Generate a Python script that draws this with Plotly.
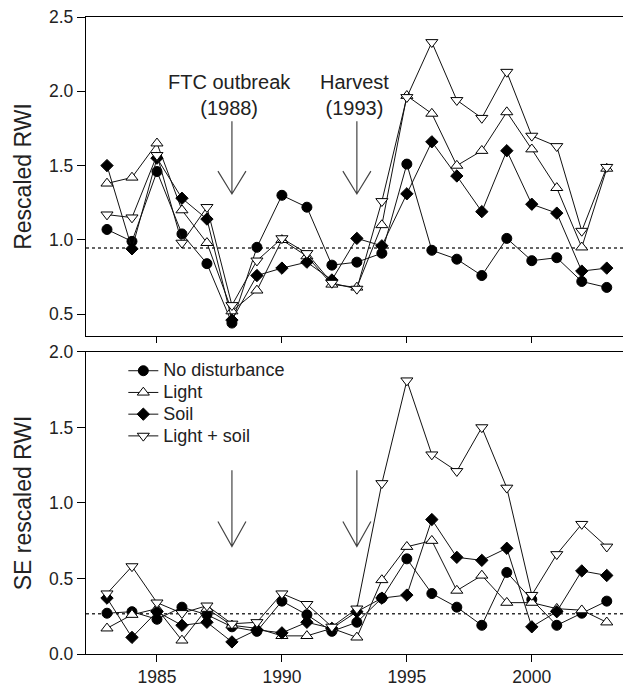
import plotly.graph_objects as go

# ---------------- data ----------------
years = list(range(1983, 2004))
series_names = ["No disturbance", "Light", "Soil", "Light + soil"]

rwi_none = [1.07, 0.99, 1.46, 1.04, 0.84, 0.44, 0.95, 1.30, 1.22, 0.83, 0.85,
            0.91, 1.51, 0.93, 0.87, 0.76, 1.01, 0.86, 0.88, 0.72, 0.68]
rwi_light = [1.38, 1.42, 1.65, 1.20, 0.98, 0.52, 0.66, 1.00, 0.89, 0.70, 0.68,
             1.10, 1.97, 1.85, 1.50, 1.60, 1.86, 1.61, 1.35, 0.95, 1.48]
rwi_soil = [1.50, 0.94, 1.55, 1.28, 1.14, 0.46, 0.76, 0.81, 0.85, 0.73, 1.01,
            0.96, 1.31, 1.66, 1.43, 1.19, 1.60, 1.24, 1.18, 0.79, 0.81]
rwi_both = [1.17, 1.15, 1.57, 0.98, 1.22, 0.56, 0.86, 1.01, 0.91, 0.71, 0.67,
            1.26, 1.96, 2.33, 1.94, 1.82, 2.13, 1.70, 1.63, 1.06, 1.49]

se_none = [0.27, 0.28, 0.23, 0.31, 0.26, 0.18, 0.15, 0.35, 0.26, 0.15, 0.21,
           0.37, 0.63, 0.40, 0.31, 0.19, 0.54, 0.36, 0.19, 0.27, 0.35]
se_light = [0.17, 0.26, 0.30, 0.09, 0.30, 0.19, 0.17, 0.12, 0.12, 0.17, 0.11,
            0.49, 0.71, 0.75, 0.42, 0.52, 0.34, 0.34, 0.30, 0.29, 0.21]
se_soil = [0.37, 0.11, 0.28, 0.19, 0.21, 0.08, 0.16, 0.14, 0.21, 0.17, 0.28,
           0.37, 0.39, 0.89, 0.64, 0.62, 0.70, 0.18, 0.28, 0.55, 0.52]
se_both = [0.40, 0.58, 0.34, 0.27, 0.32, 0.20, 0.21, 0.40, 0.33, 0.18, 0.30,
           1.13, 1.81, 1.32, 1.21, 1.50, 1.10, 0.39, 0.66, 0.86, 0.71]

rwi_ref = 0.945
se_ref = 0.267

event_years = [1988, 1993]
event_labels = ["FTC outbreak<br>(1988)", "Harvest<br>(1993)"]

x_ticks = [1985, 1990, 1995, 2000]
top_y_ticks = [0.5, 1.0, 1.5, 2.0, 2.5]
bot_y_ticks = [0.0, 0.5, 1.0, 1.5, 2.0]

# ---------------- styling ----------------
FONT = "Liberation Sans, Arial, Helvetica, sans-serif"
TXT = "#222222"
styles = [
    dict(symbol="circle", size=10, color="black", line=dict(color="black", width=1)),
    dict(symbol="triangle-up", size=10.5, color="white", line=dict(color="black", width=1)),
    dict(symbol="diamond", size=9.5, color="black", line=dict(color="black", width=1)),
    dict(symbol="triangle-down", size=10.5, color="white", line=dict(color="black", width=1)),
]

fig = go.Figure()

top_series = [rwi_none, rwi_light, rwi_soil, rwi_both]
bot_series = [se_none, se_light, se_soil, se_both]

for name, ys, st in zip(series_names, top_series, styles):
    fig.add_trace(go.Scatter(x=years, y=ys, mode="lines+markers", name=name,
                             showlegend=False, xaxis="x2", yaxis="y2",
                             line=dict(color="#111111", width=1), marker=st))
for name, ys, st in zip(series_names, bot_series, styles):
    fig.add_trace(go.Scatter(x=years, y=ys, mode="lines+markers",
                             name=f"<span style='font-size:18px'>{name}</span>",
                             showlegend=True, xaxis="x", yaxis="y",
                             line=dict(color="#111111", width=1), marker=st))

shapes = []
# dotted reference lines
shapes.append(dict(type="line", xref="x2 domain", yref="y2", x0=0, x1=1,
                   y0=rwi_ref, y1=rwi_ref, layer="below",
                   line=dict(color="#333333", width=1.5, dash="dot")))
shapes.append(dict(type="line", xref="x domain", yref="y", x0=0, x1=1,
                   y0=se_ref, y1=se_ref, layer="below",
                   line=dict(color="#333333", width=1.5, dash="dot")))

# open-V arrows (geometry in axis units)
half_w = 0.56
top_arrow = (1.798, 1.309, 0.154)
bot_arrow = (1.217, 0.712, 0.165)
for ev in event_years:
    for (y_top, y_tip, head_h), xr, yr in [(top_arrow, "x2", "y2"), (bot_arrow, "x", "y")]:
        path = (f"M {ev},{y_top} L {ev},{y_tip} "
                f"M {ev - half_w},{y_tip + head_h} L {ev},{y_tip} L {ev + half_w},{y_tip + head_h}")
        shapes.append(dict(type="path", xref=xr, yref=yr, path=path,
                           line=dict(color="#444444", width=1.2)))

annotations = []
for ev, lab in zip(event_years, event_labels):
    annotations.append(dict(x=ev, y=1.976, xref="x2", yref="y2", text=lab,
                            showarrow=False, xshift=-2, xanchor="center", yanchor="middle",
                            font=dict(family=FONT, size=20, color=TXT)))

axis_common = dict(showline=True, linecolor="black", linewidth=1.3,
                   ticks="outside", tickcolor="black", tickwidth=1.2,
                   showgrid=False, zeroline=False,
                   tickfont=dict(family=FONT, size=17.5, color=TXT))

fig.update_layout(
    width=623, height=687,
    margin=dict(l=86, r=0, t=17, b=29),
    plot_bgcolor="white", paper_bgcolor="white",
    font=dict(family=FONT, color=TXT),
    xaxis=dict(**axis_common, domain=[0, 1], anchor="y", range=[1982.16, 2003.65],
               tickvals=x_ticks, ticklen=7, mirror=True),
    xaxis2=dict(**axis_common, domain=[0, 1], anchor="y2", range=[1982.16, 2003.65],
                tickvals=x_ticks, ticklen=6, mirror=True, showticklabels=False),
    yaxis=dict(**axis_common, domain=[0, 0.4743], anchor="x", range=[0, 2.0],
               tickvals=bot_y_ticks, tickformat=".1f", ticklen=8,
               title=dict(text="SE rescaled RWI", standoff=10,
                          font=dict(family=FONT, size=23, color=TXT))),
    yaxis2=dict(**axis_common, domain=[0.4992, 1], anchor="x2", range=[0.353, 2.5],
                tickvals=top_y_ticks, tickformat=".1f", ticklen=8,
                title=dict(text="Rescaled RWI", standoff=10,
                           font=dict(family=FONT, size=23, color=TXT))),
    legend=dict(x=0.0695, y=0.4696, xanchor="left", yanchor="top",
                bgcolor="rgba(0,0,0,0)", font=dict(family=FONT, size=14.4, color=TXT),
                tracegroupgap=0),
    shapes=shapes, annotations=annotations,
)

fig.write_html("out.html",
               config={"displayModeBar": False},
               post_script="document.body.style.margin='0';document.body.style.overflow='hidden';")
